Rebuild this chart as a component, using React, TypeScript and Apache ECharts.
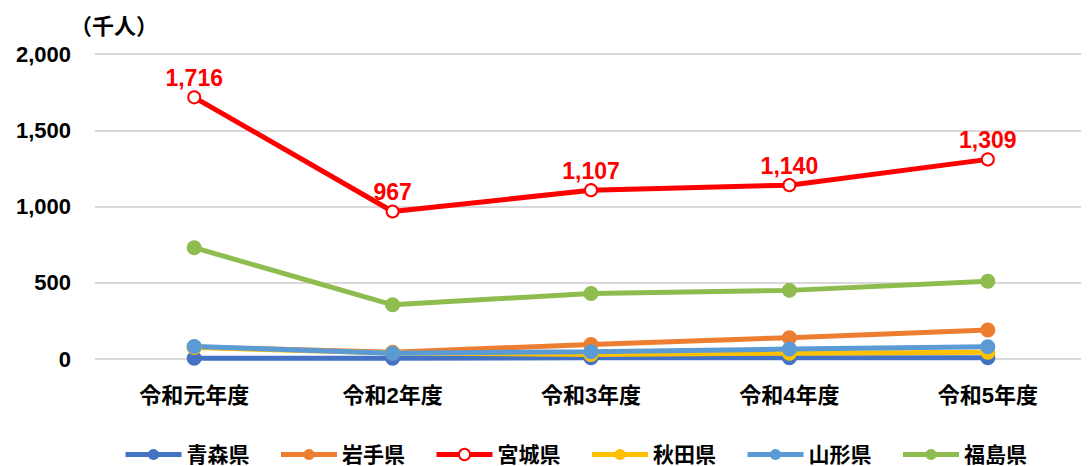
import React, { useEffect, useRef } from "react";
import * as echarts from "echarts";

const categories = ["令和元年度", "令和2年度", "令和3年度", "令和4年度", "令和5年度"];
const aomori = [5, 5, 8, 8, 8];
const iwate = [78, 45, 95, 140, 190];
const miyagi = [1716, 967, 1107, 1140, 1309];
const akita = [75, 40, 30, 38, 45];
const yamagata = [82, 38, 48, 65, 80];
const fukushima = [730, 355, 430, 450, 510];

const FONT = "'Liberation Sans', 'Noto Sans CJK JP', sans-serif";

export default function App() {
  const ref = useRef<HTMLDivElement>(null);
  useEffect(() => {
    if (!ref.current) return;
    const chart = echarts.init(ref.current, undefined, { renderer: "svg" });
    const mk = (name: string, data: number[], color: string, extra: any = {}) => ({
      name,
      type: "line",
      data,
      symbol: "circle",
      symbolSize: 15,
      lineStyle: { width: 5, color },
      itemStyle: { color },
      ...extra,
    });
    chart.setOption({
      animation: false,
      grid: { left: 87, right: 2, top: 46, bottom: 107 },
      graphic: [
        {
          type: "text",
          left: 62,
          top: 7,
          style: { text: "（千人）", font: `bold 22px ${FONT}`, fill: "#000" },
        },
      ],
      legend: {
        bottom: -4,
        left: 110,
        itemWidth: 56,
        itemHeight: 14,
        itemGap: 29,
        lineStyle: { width: 5 },
        textStyle: { fontSize: 21, fontWeight: "bold", color: "#000", fontFamily: FONT },
        data: ["青森県", "岩手県", "宮城県", "秋田県", "山形県", "福島県"],
      },
      xAxis: {
        type: "category",
        data: categories,
        axisLine: { show: false },
        axisTick: { show: false },
        axisLabel: { fontSize: 22, fontWeight: "bold", color: "#000", fontFamily: FONT, margin: 25 },
      },
      yAxis: {
        type: "value",
        min: 0,
        max: 2000,
        interval: 500,
        axisLabel: {
          fontSize: 22,
          fontWeight: "bold",
          color: "#000",
          fontFamily: FONT,
          margin: 24,
          formatter: (v: number) => v.toLocaleString("en-US"),
        },
        splitLine: { lineStyle: { color: "#d9d9d9", width: 2 } },
      },
      series: [
        mk("青森県", aomori, "#4472C4"),
        mk("岩手県", iwate, "#ED7D31"),
        mk("秋田県", akita, "#FFC000"),
        mk("山形県", yamagata, "#5B9BD5"),
        mk("福島県", fukushima, "#8FBC4F"),
        mk("宮城県", miyagi, "#FF0000", {
          symbol: "emptyCircle",
          symbolSize: 12,
          itemStyle: { color: "#FF0000", borderWidth: 3, borderColor: "#FF0000" },
          label: {
            show: true,
            position: "top",
            distance: 1,
            color: "#FF0000",
            fontSize: 23,
            fontWeight: "bold",
            fontFamily: FONT,
            formatter: (p: any) => p.value.toLocaleString("en-US"),
          },
        }),
      ],
    });
    return () => chart.dispose();
  }, []);
  return <div ref={ref} style={{ width: 1081, height: 458 }} />;
}
